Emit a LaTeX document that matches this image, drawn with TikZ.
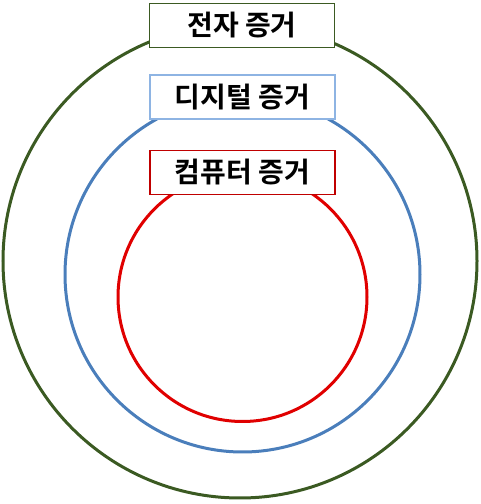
\documentclass[tikz,border=0pt]{standalone}
\usepackage{fontspec}
\newfontfamily\kr{Noto Sans CJK KR}[BoldFont={Noto Sans CJK KR Bold}]
\definecolor{cgreen}{HTML}{3B5A22}
\definecolor{cblue}{HTML}{4A7EBB}
\definecolor{cbluebox}{HTML}{8EB4E3}
\definecolor{cred}{HTML}{E00000}
\definecolor{credbox}{HTML}{C00000}
\tikzset{
  ring/.style={line width=3pt},
  lbl/.style={draw, fill=white, line width=1.2pt, minimum width=185pt, minimum height=44pt,
    inner sep=0pt, font=\kr\bfseries\fontsize{28}{28}\selectfont, text=black}
}
\begin{document}
\begin{tikzpicture}[x=1pt,y=1pt]
\useasboundingbox (0,0) rectangle (480,504);
\draw[ring, cgreen] (240,243) circle (237);
\draw[ring, cblue] (242.5,229.5) circle (177.5);
\draw[ring, cred] (242.5,207) circle (124.5);
\node[lbl, draw=cgreen] (e) at (242,478.5) {전자 증거};
\node[lbl, draw=cbluebox] (d) at (242.5,407) {디지털 증거};
\node[lbl, draw=credbox] (c) at (242.5,331.5) {컴퓨터 증거};
\end{tikzpicture}
\end{document}
